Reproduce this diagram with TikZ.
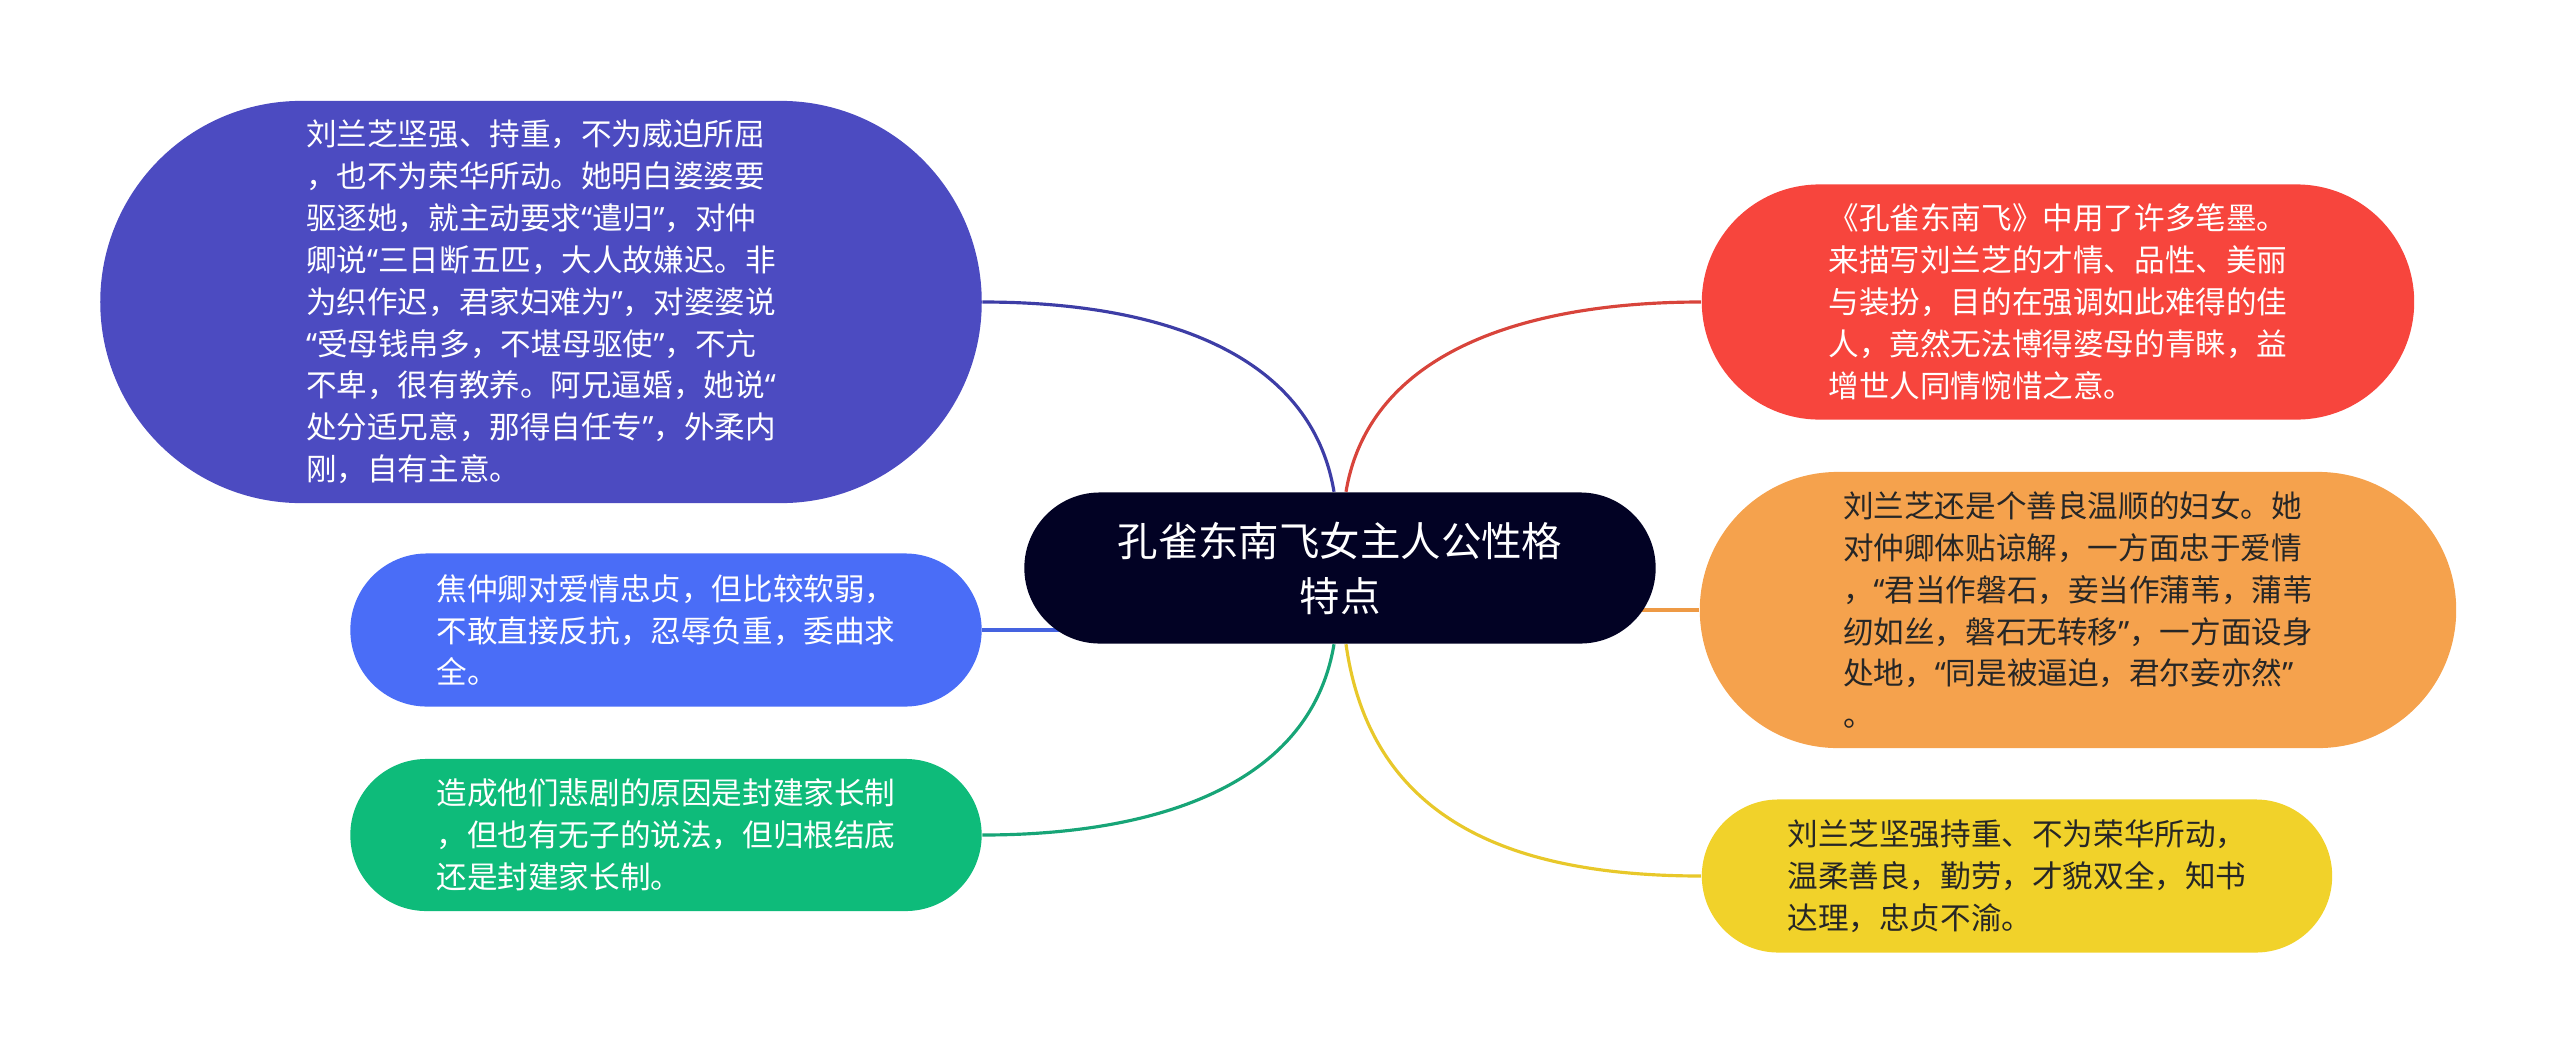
\documentclass[tikz,border=0pt]{standalone}
\usepackage{fontspec}
\setmainfont{Noto Sans CJK SC}
\newfontfamily\quotefont{Noto Sans}
\newcommand{\oq}{{\quotefont “}}
\newcommand{\cq}{{\quotefont ”}}
\usetikzlibrary{backgrounds}

\definecolor{hubNavy}{HTML}{020224}
\definecolor{cPurple}{HTML}{4C4BC1}
\definecolor{cPurpleLine}{HTML}{3D3DA6}
\definecolor{cRed}{HTML}{F7453D}
\definecolor{cRedLine}{HTML}{D8443B}
\definecolor{cOrange}{HTML}{F5A24D}
\definecolor{cOrangeLine}{HTML}{EE9A45}
\definecolor{cYellow}{HTML}{F1D22A}
\definecolor{cYellowLine}{HTML}{E8C82A}
\definecolor{cBlue}{HTML}{4A6DF7}
\definecolor{cBlueLine}{HTML}{4563E0}
\definecolor{cGreen}{HTML}{0EBB7A}
\definecolor{cGreenLine}{HTML}{17A577}
\definecolor{darkText}{HTML}{262626}

\begin{document}
\begin{tikzpicture}[x=0.01cm, y=-0.01cm,
  leaf/.style={rectangle, align=left, text=white, inner sep=0pt,
    font=\fontsize{8.7pt}{11.9pt}\selectfont},
  link/.style={line width=0.9pt}]
  \useasboundingbox (0,0) rectangle (2560,1057);
  \node[rectangle, fill=hubNavy, text=white, align=center, minimum width=6.31cm,
    minimum height=1.51cm, rounded corners=0.755cm,
    font=\fontsize{11.5pt}{15.6pt}\selectfont] (hub) at (1340,568) {孔雀东南飞女主人公性格\\特点};

  \node[leaf, fill=cPurple, minimum width=8.81cm, minimum height=4.02cm, rounded corners=2.01cm] (lt) at (541,302)
    {刘兰芝坚强、持重，不为威迫所屈\\，也不为荣华所动。她明白婆婆要\\驱逐她，就主动要求\oq 遣归\cq ，对仲\\卿说\oq 三日断五匹，大人故嫌迟。非\\为织作迟，君家妇难为\cq ，对婆婆说\\\oq 受母钱帛多，不堪母驱使\cq ，不亢\\不卑，很有教养。阿兄逼婚，她说\oq\\处分适兄意，那得自任专\cq ，外柔内\\刚，自有主意。};
  \node[leaf, fill=cBlue, minimum width=6.31cm, minimum height=1.53cm, rounded corners=0.765cm] (lb) at (666,630)
    {焦仲卿对爱情忠贞，但比较软弱，\\不敢直接反抗，忍辱负重，委曲求\\全。};
  \node[leaf, fill=cGreen, minimum width=6.31cm, minimum height=1.52cm, rounded corners=0.76cm] (lg) at (666,835)
    {造成他们悲剧的原因是封建家长制\\，但也有无子的说法，但归根结底\\还是封建家长制。};
  \node[leaf, fill=cRed, minimum width=7.12cm, minimum height=2.35cm, rounded corners=1.175cm] (rt) at (2058,302)
    {《孔雀东南飞》中用了许多笔墨。\\来描写刘兰芝的才情、品性、美丽\\与装扮，目的在强调如此难得的佳\\人，竟然无法博得婆母的青睐，益\\增世人同情惋惜之意。};
  \node[leaf, fill=cOrange, text=darkText, minimum width=7.56cm, minimum height=2.76cm, rounded corners=1.38cm] (ro) at (2078,610)
    {刘兰芝还是个善良温顺的妇女。她\\对仲卿体贴谅解，一方面忠于爱情\\，\oq 君当作磐石，妾当作蒲苇，蒲苇\\纫如丝，磐石无转移\cq ，一方面设身\\处地，\oq 同是被逼迫，君尔妾亦然\cq\\。};
  \node[leaf, fill=cYellow, text=darkText, minimum width=6.30cm, minimum height=1.53cm, rounded corners=0.765cm] (ry) at (2017,876)
    {刘兰芝坚强持重、不为荣华所动，\\温柔善良，勤劳，才貌双全，知书\\达理，忠贞不渝。};

  \begin{scope}[on background layer]
    \draw[link, cPurpleLine] ([xshift=-0.6mm]hub.north) .. controls +(-24,-144) and +(168,0) .. (lt.east);
    \draw[link, cRedLine] ([xshift=0.6mm]hub.north) .. controls +(24,-144) and +(-168,0) .. (rt.west);
    \draw[link, cGreenLine] ([xshift=-0.6mm]hub.south) .. controls +(-24,144) and +(168,0) .. (lg.east);
    \draw[link, cYellowLine] ([xshift=0.6mm]hub.south) .. controls +(24,170) and +(-200,0) .. (ry.west);
    \draw[link, cBlueLine] (lb.east) -- (lb.east -| hub.center);
    \draw[link, cOrangeLine] (ro.west) -- (ro.west -| hub.center);
  \end{scope}
\end{tikzpicture}
\end{document}
